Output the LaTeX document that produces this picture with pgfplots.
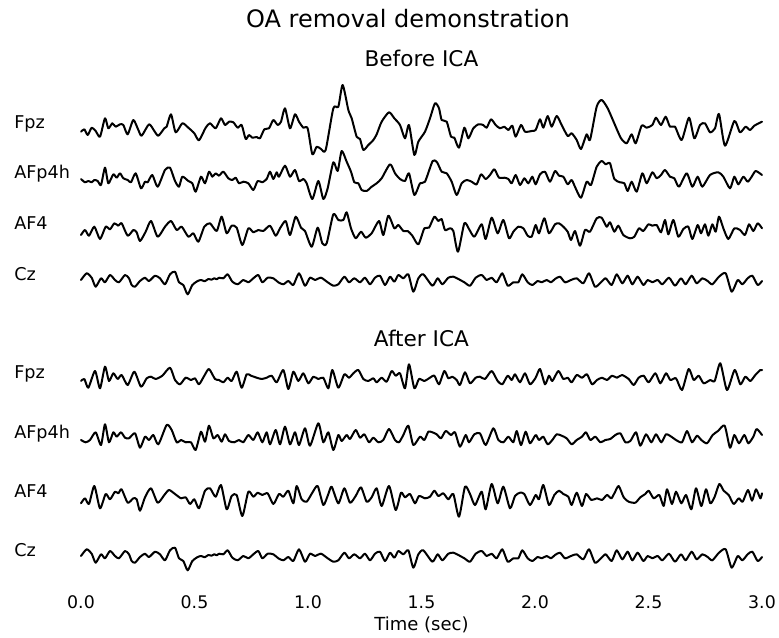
\documentclass[border=0pt]{standalone}
\usepackage{pgfplots}
\usepackage{pgfplotstable}
\pgfplotsset{compat=1.18}
\usepackage{fontspec}
\setmainfont{DejaVu Sans}
% Before ICA, Fpz
\pgfplotstableread{
t y
0.0000 -7.7
0.0147 -5.3
0.0294 -11.0
0.0470 -3.7
0.0646 -7.0
0.0837 -12.7
0.1057 5.7
0.1204 -4.3
0.1380 0.7
0.1527 -2.7
0.1718 -0.3
0.1865 -1.0
0.2056 -10.3
0.2305 4.0
0.2526 -6.0
0.2673 -11.7
0.2996 -0.3
0.3231 -7.0
0.3407 -11.7
0.3671 -4.3
0.3774 -2.7
0.3965 9.7
0.4170 -8.3
0.4464 0.7
0.4728 -3.7
0.4993 -9.3
0.5198 -16.3
0.5492 -3.7
0.5683 0.7
0.5932 -4.3
0.6167 5.7
0.6344 -1.0
0.6520 2.3
0.6711 1.7
0.6902 -3.7
0.7078 -1.0
0.7254 -15.0
0.7401 -11.0
0.7548 -13.7
0.7739 -13.0
0.7885 -14.3
0.8076 -5.3
0.8282 -4.3
0.8473 4.0
0.8664 -1.0
0.8811 2.3
0.8987 15.7
0.9207 -4.3
0.9427 9.7
0.9604 2.3
0.9794 -3.7
0.9985 -4.3
1.0191 -30.3
1.0382 -22.7
1.0573 -25.0
1.0778 -26.0
1.1116 15.7
1.1336 17.3
1.1527 39.0
1.1777 14.0
1.1924 5.7
1.2144 -12.7
1.2291 -15.0
1.2438 -26.0
1.2658 -21.0
1.2878 -16.0
1.3025 -10.3
1.3245 2.3
1.3568 11.7
1.3803 5.7
1.4053 -1.0
1.4273 -14.3
1.4449 -1.0
1.4684 -31.0
1.4861 -17.7
1.5154 -7.7
1.5374 5.7
1.5595 20.7
1.5771 15.7
1.5888 4.0
1.6109 2.3
1.6300 -12.7
1.6446 -13.7
1.6652 -23.7
1.6887 -3.7
1.7063 -14.3
1.7283 -4.3
1.7504 -0.3
1.7724 -1.0
1.7871 -3.7
1.8062 4.7
1.8267 -1.0
1.8458 -4.3
1.8649 -2.7
1.8826 -6.0
1.9002 -1.7
1.9148 -12.7
1.9383 -1.0
1.9559 -7.7
1.9853 -7.0
2.0029 -6.0
2.0220 4.7
2.0367 -3.7
2.0558 8.0
2.0734 -2.7
2.0954 8.0
2.1175 -1.0
2.1439 -12.0
2.1615 -9.3
2.1836 -16.0
2.2026 -25.0
2.2276 -10.3
2.2423 -16.0
2.2717 17.3
2.2937 24.0
2.3201 15.7
2.3524 -1.0
2.3789 -14.3
2.4038 -19.3
2.4258 -10.3
2.4435 -19.3
2.4699 -1.7
2.4919 -3.7
2.5169 -1.0
2.5330 6.3
2.5551 -1.0
2.5756 7.3
2.5947 -2.7
2.6167 -2.7
2.6461 -16.0
2.6784 6.3
2.7019 -14.3
2.7269 -1.0
2.7489 0.7
2.7709 -8.3
2.7930 -4.3
2.8106 10.0
2.8370 -21.7
2.8781 3.0
2.9031 -8.3
2.9280 -2.7
2.9471 -6.0
2.9662 -1.7
3.0000 2.3
}\bfpz
% Before ICA, AFp4h
\pgfplotstableread{
t y
0.0000 -4.0
0.0176 -7.3
0.0323 -6.0
0.0470 -7.3
0.0587 -5.0
0.0734 -6.0
0.0881 -10.0
0.1057 7.3
0.1204 -8.3
0.1424 0.7
0.1571 -2.7
0.1718 1.7
0.1865 -3.3
0.2056 -5.0
0.2203 -7.3
0.2408 1.7
0.2643 -13.3
0.2819 -6.7
0.2937 -7.3
0.3142 0.0
0.3377 -11.7
0.3700 5.0
0.3921 7.3
0.4141 -6.0
0.4317 -11.7
0.4464 -1.7
0.4728 -6.0
0.4905 -8.3
0.5051 -16.7
0.5286 -1.7
0.5463 -8.3
0.5639 3.3
0.5786 -1.7
0.5932 1.7
0.6079 -0.7
0.6270 3.3
0.6490 -3.3
0.6667 -5.0
0.6814 -2.7
0.6960 -8.3
0.7151 -6.7
0.7372 -8.3
0.7592 -15.0
0.7783 -6.0
0.7988 -7.3
0.8179 -4.0
0.8326 3.3
0.8473 -4.0
0.8620 2.7
0.8722 -1.7
0.8987 9.3
0.9207 -1.7
0.9427 5.0
0.9604 -6.0
0.9794 -4.0
0.9941 -8.3
1.0191 -24.0
1.0455 -6.0
1.0675 -24.0
1.0866 -13.3
1.1116 12.7
1.1307 4.0
1.1483 24.0
1.1703 13.3
1.1894 3.3
1.2041 -7.3
1.2217 -8.3
1.2364 -15.0
1.2584 -16.0
1.2805 -11.7
1.3025 -8.3
1.3245 -3.3
1.3612 10.7
1.3833 1.7
1.4053 -4.0
1.4273 -6.0
1.4449 1.7
1.4684 -20.0
1.4934 -8.3
1.5154 -6.7
1.5492 14.0
1.5683 12.7
1.5888 3.3
1.6109 1.7
1.6329 -6.7
1.6549 -20.0
1.6769 -8.3
1.6990 -5.0
1.7210 -6.7
1.7430 -9.3
1.7621 0.7
1.7827 -4.0
1.8018 0.0
1.8209 5.7
1.8414 -2.7
1.8649 -2.7
1.8826 -4.0
1.8972 -8.3
1.9148 0.0
1.9339 -10.0
1.9530 -3.3
1.9706 -8.3
1.9883 -1.7
2.0029 -9.3
2.0220 0.7
2.0441 3.3
2.0661 -6.7
2.0881 4.0
2.1057 -0.7
2.1248 -1.7
2.1439 -9.3
2.1615 -5.0
2.1791 -13.3
2.2026 -22.7
2.2276 -6.7
2.2467 -10.0
2.2717 8.3
2.2937 14.0
2.3113 10.7
2.3304 11.7
2.3495 -4.0
2.3745 -7.3
2.3935 -8.3
2.4082 -16.0
2.4258 -6.7
2.4479 -16.7
2.4728 1.7
2.4919 -8.3
2.5169 2.7
2.5360 -3.3
2.5551 0.0
2.5727 5.0
2.5947 -1.7
2.6138 -3.3
2.6344 -11.7
2.6681 1.7
2.6931 -11.7
2.7166 -1.7
2.7372 -11.7
2.7709 0.0
2.8076 2.7
2.8297 -1.7
2.8590 -13.3
2.8781 -1.7
2.8957 -9.3
2.9178 -1.7
2.9369 -6.7
2.9545 -1.7
2.9721 4.0
3.0000 0.0
}\bafpfh
% Before ICA, AF4
\pgfplotstableread{
t y
0.0000 -11.0
0.0176 -6.0
0.0352 -11.7
0.0587 -2.7
0.0837 -15.0
0.1087 -2.7
0.1278 -5.3
0.1468 0.7
0.1645 -1.7
0.1791 0.7
0.2056 -11.7
0.2305 -6.0
0.2452 -8.3
0.2599 -17.0
0.2849 -7.7
0.3084 3.0
0.3377 -12.7
0.3700 -2.7
0.3965 3.0
0.4214 -6.0
0.4435 -2.7
0.4728 -12.7
0.4949 -9.3
0.5169 -17.7
0.5433 -2.7
0.5683 0.7
0.5977 -7.0
0.6197 7.3
0.6417 -9.3
0.6637 -1.7
0.6858 -3.7
0.7107 -21.0
0.7372 -4.3
0.7592 -8.3
0.7812 -6.0
0.8032 -7.0
0.8326 -1.7
0.8576 -11.7
0.8767 -4.3
0.9016 3.0
0.9207 -11.0
0.9457 7.3
0.9692 -3.7
0.9868 -7.0
1.0162 -22.7
1.0426 -3.7
1.0631 -19.3
1.0822 -19.3
1.1116 9.7
1.1336 4.0
1.1557 4.0
1.1703 11.7
1.1894 -4.3
1.2100 -14.3
1.2335 -7.7
1.2540 -13.7
1.2805 -9.3
1.3128 3.0
1.3319 -11.0
1.3539 8.3
1.3803 -4.3
1.3979 -1.0
1.4200 -7.0
1.4391 -7.0
1.4596 -11.7
1.4861 -20.3
1.5125 -4.3
1.5330 -3.7
1.5565 7.3
1.5742 3.0
1.5888 5.0
1.6035 -6.0
1.6256 -4.3
1.6402 -7.0
1.6608 -27.7
1.6887 0.7
1.7093 -5.0
1.7327 -12.7
1.7651 -0.3
1.7827 -15.0
1.8091 6.3
1.8355 -9.3
1.8605 4.0
1.8855 -14.3
1.9046 -7.7
1.9266 -2.7
1.9486 -4.3
1.9677 -11.7
1.9853 -12.7
2.0029 -1.0
2.0176 -9.3
2.0411 5.7
2.0617 -9.3
2.0881 -0.3
2.1057 0.7
2.1248 -2.7
2.1439 -7.7
2.1586 -16.0
2.1762 -7.0
2.1982 -21.7
2.2203 -6.0
2.2423 -7.7
2.2717 5.7
2.2937 6.3
2.3157 -2.7
2.3304 1.7
2.3495 -7.7
2.3671 -1.7
2.3891 -11.0
2.4185 -14.3
2.4376 -12.7
2.4581 -4.3
2.4772 -7.0
2.4993 -0.3
2.5169 -1.7
2.5360 -1.0
2.5551 -8.3
2.5727 4.0
2.5874 -10.3
2.6094 4.0
2.6314 -12.7
2.6535 -5.0
2.6755 -2.7
2.6931 -15.0
2.7166 -1.0
2.7313 -9.3
2.7489 -0.3
2.7636 -11.7
2.7812 -0.3
2.7959 -7.7
2.8106 7.3
2.8297 -4.3
2.8517 -15.0
2.8781 -4.3
2.9031 -6.0
2.9251 -11.0
2.9427 -0.3
2.9618 -7.0
2.9809 0.7
3.0000 -4.3
}\bafiv
% Cz (unchanged by ICA)
\pgfplotstableread{
t y
0.0000 -5.0
0.0250 1.7
0.0470 -2.7
0.0646 -11.7
0.0881 -3.3
0.1057 -7.3
0.1278 0.0
0.1498 -5.0
0.1674 -7.3
0.1938 0.0
0.2115 -3.3
0.2232 -10.0
0.2379 -11.7
0.2599 -6.0
0.2819 -2.7
0.2996 -6.0
0.3260 -0.7
0.3480 -3.3
0.3700 -9.3
0.3921 0.7
0.4141 3.3
0.4317 -7.3
0.4508 -10.0
0.4699 -19.3
0.4905 -10.0
0.5140 -6.0
0.5300 -5.0
0.5450 -6.3
0.5609 -4.0
0.5750 -4.7
0.5874 -3.3
0.5980 -4.3
0.6079 -2.7
0.6270 -3.3
0.6461 0.7
0.6667 -6.7
0.6902 -9.3
0.7151 -5.0
0.7372 -7.3
0.7592 -3.3
0.7812 0.0
0.7988 -7.3
0.8223 -2.7
0.8473 -3.3
0.8693 -7.3
0.8913 -9.3
0.9134 -6.0
0.9354 -10.0
0.9604 1.7
0.9868 -10.7
1.0088 -2.7
1.0308 -5.0
1.0573 -2.7
1.0866 -7.3
1.1116 -10.7
1.1336 -9.3
1.1601 -1.7
1.1806 -7.3
1.2041 -3.3
1.2291 -7.3
1.2511 -2.7
1.2731 -9.3
1.2952 -2.7
1.3172 -0.7
1.3392 -10.0
1.3612 -1.7
1.3803 -6.7
1.3979 0.0
1.4200 -3.3
1.4420 0.7
1.4640 -16.7
1.4861 -3.3
1.5081 0.7
1.5478 -10.7
1.5712 -3.3
1.5918 -9.3
1.6182 -2.7
1.6402 -1.7
1.6623 -4.0
1.6887 -7.3
1.7137 -10.7
1.7386 -2.7
1.7651 0.0
1.7871 -5.0
1.8091 -2.7
1.8311 -7.3
1.8561 1.7
1.8796 -10.7
1.9046 -7.3
1.9266 -7.3
1.9442 0.7
1.9677 -7.3
1.9883 -10.0
2.0117 -6.0
2.0294 -7.3
2.0514 -5.0
2.0705 -7.3
2.0881 -4.0
2.1101 -1.7
2.1322 -7.3
2.1586 -5.0
2.1836 -3.3
2.2129 -8.3
2.2379 1.7
2.2643 -11.7
2.2907 -7.3
2.3113 -3.3
2.3377 -10.0
2.3598 0.7
2.3847 -8.3
2.4082 -0.7
2.4288 -9.3
2.4523 -1.7
2.4772 -10.0
2.4963 -5.0
2.5169 -7.3
2.5404 -5.0
2.5609 -9.3
2.5903 -2.7
2.6167 -10.7
2.6432 -3.3
2.6637 -9.3
2.6902 -0.7
2.7122 -8.3
2.7372 -3.3
2.7606 -6.0
2.7812 -9.3
2.8106 -1.7
2.8400 1.7
2.8664 -16.7
2.8929 -5.0
2.9134 -9.3
2.9369 -3.3
2.9574 -0.7
2.9809 -10.0
3.0000 -6.0
}\cz
% After ICA, Fpz
\pgfplotstableread{
t y
0.0000 -8.0
0.0147 -6.0
0.0323 -14.7
0.0617 2.0
0.0837 -15.3
0.1057 6.3
0.1233 -8.0
0.1424 -0.3
0.1615 -6.0
0.1791 -2.0
0.2056 -12.0
0.2349 1.3
0.2643 -13.7
0.2893 -5.3
0.3084 -3.7
0.3289 -6.0
0.3583 -2.7
0.3921 5.3
0.4141 -7.0
0.4361 -11.3
0.4611 -4.7
0.4846 -7.0
0.5022 -5.3
0.5198 -11.3
0.5433 -2.7
0.5639 4.0
0.5903 -6.0
0.6079 -7.0
0.6270 -9.3
0.6461 -4.7
0.6637 -8.0
0.6858 1.3
0.7078 -14.7
0.7298 -1.3
0.7489 -2.7
0.7739 -4.7
0.7959 -6.0
0.8179 -4.7
0.8399 -2.7
0.8620 -9.3
0.8913 3.0
0.9134 -16.0
0.9354 1.3
0.9574 -8.0
0.9794 -0.3
1.0015 -10.3
1.0235 -3.7
1.0455 -6.0
1.0675 -4.7
1.0896 -15.3
1.1072 3.0
1.1336 -14.7
1.1601 -1.3
1.1806 -4.7
1.1997 -0.3
1.2217 3.0
1.2438 -6.0
1.2658 -8.0
1.2878 -5.3
1.3025 -9.3
1.3245 -4.7
1.3465 -8.7
1.3686 2.0
1.3862 -2.7
1.4053 -0.3
1.4273 -15.3
1.4449 8.7
1.4684 -15.3
1.4890 -6.0
1.5125 -8.0
1.5330 -5.3
1.5565 -2.7
1.5771 -11.3
1.6006 2.0
1.6182 -5.3
1.6358 -3.7
1.6549 -7.0
1.6696 -12.0
1.6916 0.7
1.7137 -10.3
1.7386 -4.7
1.7577 -3.7
1.7797 -6.0
1.8091 2.0
1.8355 -8.0
1.8561 -11.3
1.8796 -2.7
1.8972 -7.0
1.9119 -1.3
1.9339 -9.3
1.9559 -0.3
1.9780 -11.3
2.0029 -4.7
2.0220 4.0
2.0441 -11.3
2.0617 -2.7
2.0764 -8.0
2.1028 2.0
2.1248 -6.0
2.1439 -4.7
2.1615 -9.3
2.1836 -2.0
2.2070 -4.7
2.2291 -1.3
2.2511 -11.3
2.2731 -7.0
2.2952 -4.7
2.3172 -7.0
2.3392 -2.7
2.3612 -4.7
2.3833 -2.0
2.4126 -6.0
2.4347 -12.0
2.4567 -4.7
2.4787 -2.7
2.5007 -9.3
2.5301 -0.3
2.5521 -10.3
2.5771 -0.3
2.5962 -7.0
2.6211 -5.3
2.6476 -17.0
2.6769 4.0
2.6990 -7.0
2.7210 -2.7
2.7430 -10.3
2.7724 -7.0
2.7915 -8.0
2.8164 9.7
2.8458 -17.0
2.8796 3.0
2.9046 -11.3
2.9266 -3.7
2.9486 -8.0
2.9706 -2.0
2.9927 3.0
3.0000 3.0
}\afpz
% After ICA, AFp4h
\pgfplotstableread{
t y
0.0000 -8.0
0.0206 -10.3
0.0396 -8.0
0.0646 -0.3
0.0881 -13.0
0.1057 7.7
0.1233 -10.3
0.1424 -0.3
0.1571 -4.7
0.1762 -0.3
0.1938 -5.7
0.2115 -6.3
0.2379 -1.3
0.2599 -15.7
0.2819 -4.7
0.2996 -8.0
0.3187 -3.0
0.3407 -12.3
0.3774 7.0
0.3994 2.0
0.4214 -10.3
0.4405 -8.0
0.4611 -10.3
0.4846 -10.3
0.5051 -18.0
0.5286 0.3
0.5463 -9.7
0.5639 6.3
0.5830 -6.3
0.6021 -3.0
0.6197 -9.7
0.6344 -2.3
0.6520 -9.0
0.6755 -10.3
0.6960 -8.0
0.7151 -10.3
0.7372 -3.0
0.7592 -8.0
0.7783 -0.3
0.7988 -10.3
0.8179 -0.3
0.8326 -12.3
0.8576 2.0
0.8767 -12.3
0.8987 5.3
0.9207 -12.3
0.9427 -0.3
0.9604 -13.0
0.9868 3.7
1.0088 -13.7
1.0455 8.7
1.0675 -10.3
1.0896 -0.3
1.1116 -18.0
1.1336 -3.0
1.1483 -9.0
1.1703 -3.0
1.1850 -7.0
1.2100 2.0
1.2291 -5.7
1.2482 -2.3
1.2687 -10.3
1.2878 -5.7
1.3098 -10.3
1.3319 -8.0
1.3568 3.0
1.3833 -8.0
1.4009 -10.3
1.4200 -3.0
1.4420 6.3
1.4640 -13.0
1.4934 -4.7
1.5125 -8.0
1.5301 0.3
1.5477 -0.3
1.5668 -2.3
1.5859 -6.3
1.6065 1.0
1.6300 -3.0
1.6476 -0.3
1.6696 -14.7
1.6946 -3.0
1.7093 -10.3
1.7327 -2.3
1.7577 -1.3
1.7827 -13.0
1.8164 3.7
1.8385 -8.0
1.8605 -10.3
1.8826 -4.7
1.9046 -10.3
1.9192 1.0
1.9383 -13.0
1.9589 0.3
1.9780 -11.3
2.0029 -3.0
2.0176 -8.0
2.0367 -4.7
2.0558 -12.3
2.0764 -8.0
2.0954 -2.3
2.1175 -3.7
2.1395 -6.3
2.1615 -12.3
2.1836 -8.0
2.2070 -4.7
2.2247 -0.3
2.2437 -8.0
2.2658 -4.7
2.2878 -10.3
2.3098 -8.0
2.3319 -7.0
2.3539 -3.0
2.3759 -1.3
2.3979 -10.3
2.4200 -9.0
2.4449 -0.3
2.4640 -13.7
2.4890 -2.3
2.5125 -10.3
2.5330 -2.3
2.5565 -10.3
2.5771 -2.3
2.6006 -4.7
2.6211 -8.0
2.6476 -10.3
2.6696 1.0
2.6916 -10.3
2.7137 -3.7
2.7327 -8.0
2.7577 -11.3
2.7827 -3.0
2.8062 1.0
2.8355 6.3
2.8590 -15.7
2.8781 -3.0
2.8987 -11.3
2.9222 -3.0
2.9398 -11.3
2.9618 -4.7
2.9765 3.0
3.0000 -3.0
}\aafpfh
% After ICA, AF4
\pgfplotstableread{
t y
0.0000 -11.3
0.0176 -6.3
0.0352 -12.0
0.0587 6.0
0.0837 -16.3
0.1087 -2.0
0.1278 -7.3
0.1498 0.3
0.1645 -1.3
0.1791 2.7
0.2056 -10.7
0.2305 -6.3
0.2452 -7.3
0.2599 -18.7
0.2819 -5.3
0.3084 3.7
0.3377 -10.7
0.3671 -3.0
0.3877 2.0
0.4141 -2.0
0.4405 -6.3
0.4611 -5.3
0.4802 -12.0
0.4993 -7.3
0.5198 -16.3
0.5463 1.3
0.5683 3.7
0.5932 -4.7
0.6167 7.0
0.6417 -17.3
0.6637 -4.0
0.6858 -3.0
0.7107 -24.0
0.7372 0.3
0.7592 -4.7
0.7783 -0.7
0.7988 -3.0
0.8223 -1.3
0.8473 -12.0
0.8722 -2.0
0.8913 -4.7
0.9134 1.3
0.9354 -11.3
0.9501 6.0
0.9721 -7.3
0.9941 -9.7
1.0191 -0.7
1.0426 6.0
1.0675 -13.0
1.0896 -2.0
1.1043 5.3
1.1336 -11.3
1.1601 3.7
1.1850 -10.7
1.2100 -4.0
1.2335 4.7
1.2584 -9.7
1.2805 -5.3
1.3025 3.7
1.3245 -14.0
1.3568 6.0
1.3862 -18.0
1.4097 -0.7
1.4273 -5.3
1.4493 -2.0
1.4714 -11.3
1.4890 -4.0
1.5154 -6.3
1.5374 -4.7
1.5565 1.3
1.5742 -4.0
1.5962 -1.3
1.6182 -7.3
1.6402 -2.0
1.6652 -24.7
1.6916 5.3
1.7137 -2.0
1.7357 -13.0
1.7651 0.3
1.7827 -17.3
1.8091 8.0
1.8355 -11.3
1.8605 5.3
1.8899 -16.3
1.9119 -4.0
1.9339 -0.7
1.9530 -2.0
1.9780 -13.0
2.0029 -3.0
2.0176 -7.3
2.0367 7.0
2.0617 -13.0
2.0852 -3.0
2.1057 1.3
2.1248 -2.0
2.1468 -4.7
2.1615 -13.0
2.1836 -0.7
2.2070 -14.0
2.2247 -2.0
2.2482 -8.0
2.2731 -6.3
2.2952 -8.0
2.3172 -3.0
2.3363 -6.3
2.3510 -0.7
2.3686 6.0
2.3906 -5.3
2.4126 -9.7
2.4420 -10.7
2.4640 -5.3
2.4860 -2.0
2.5007 1.3
2.5228 -6.3
2.5477 -3.0
2.5668 -14.0
2.5815 2.7
2.6035 -12.0
2.6211 0.3
2.6446 -11.3
2.6652 -3.0
2.6887 -17.3
2.7093 3.7
2.7327 -14.0
2.7533 2.7
2.7724 -11.3
2.7915 -4.7
2.8120 8.0
2.8311 1.3
2.8532 -3.0
2.8752 -12.0
2.8972 -6.3
2.9148 -9.7
2.9383 2.0
2.9559 -8.7
2.9736 2.7
2.9927 -6.3
3.0000 -1.3
}\aafiv
\begin{document}
\begin{tikzpicture}
\useasboundingbox (0,0) rectangle (584.25pt,477.75pt);
\pgfplotsset{
  trace/.style={width=510.75pt,height=60pt,scale only axis,
    xmin=0,xmax=3,ymin=-40,ymax=40,clip=false,anchor=west},
  sig/.style={black,line width=1.5pt,smooth,tension=0.4,line join=round,line cap=round,no marks},
}
\def\lab#1#2{\node[anchor=base west,inner sep=0pt,font=\fontsize{13.2}{15}\selectfont] at (10.5pt,#1) {#2};}
% titles
\node[anchor=base,inner sep=0pt,font=\fontsize{18}{21}\selectfont] at (306pt,457.3pt) {OA removal demonstration};
\node[anchor=base,inner sep=0pt,font=\fontsize{16.2}{18}\selectfont] at (316.1pt,427.5pt) {Before ICA};
\node[anchor=base,inner sep=0pt,font=\fontsize{16.2}{18}\selectfont] at (316.1pt,218.25pt) {After ICA};
% Before ICA
\begin{axis}[trace,hide axis,at={(60.75pt,384.75pt)}]
\addplot[sig] table[x=t,y=y]{\bfpz};
\end{axis}
\begin{axis}[trace,hide axis,at={(60.75pt,346.5pt)}]
\addplot[sig] table[x=t,y=y]{\bafpfh};
\end{axis}
\begin{axis}[trace,hide axis,at={(60.75pt,309.75pt)}]
\addplot[sig] table[x=t,y=y]{\bafiv};
\end{axis}
\begin{axis}[trace,hide axis,at={(60.75pt,271.5pt)}]
\addplot[sig] table[x=t,y=y]{\cz};
\end{axis}
% After ICA
\begin{axis}[trace,hide axis,at={(60.75pt,198pt)}]
\addplot[sig] table[x=t,y=y]{\afpz};
\end{axis}
\begin{axis}[trace,hide axis,at={(60.75pt,153.75pt)}]
\addplot[sig] table[x=t,y=y]{\aafpfh};
\end{axis}
\begin{axis}[trace,hide axis,at={(60.75pt,108.75pt)}]
\addplot[sig] table[x=t,y=y]{\aafiv};
\end{axis}
\begin{axis}[trace,at={(60.75pt,64.5pt)},
  axis line style={draw=none},ytick=\empty,
  xtick={0,0.5,1,1.5,2,2.5,3},major tick length=0pt,
  /pgf/number format/assume math mode=true,
  /pgf/number format/.cd,fixed,fixed zerofill,precision=1,/pgfplots/.cd,
  xticklabel style={font=\fontsize{13}{15}\selectfont,anchor=base,yshift=-13pt,inner sep=0pt},
  xlabel={Time (sec)},
  xlabel style={at={(axis description cs:0.5,0)},anchor=base,yshift=-29.25pt,inner sep=0pt,font=\fontsize{13.5}{15}\selectfont}]
\addplot[sig] table[x=t,y=y]{\cz};
\end{axis}
% channel labels
\lab{381.5pt}{Fpz}
\lab{343.5pt}{AFp4h}
\lab{305.6pt}{AF4}
\lab{267.4pt}{Cz}
\lab{194pt}{Fpz}
\lab{149pt}{AFp4h}
\lab{104.6pt}{AF4}
\lab{60.4pt}{Cz}
\end{tikzpicture}
\end{document}
